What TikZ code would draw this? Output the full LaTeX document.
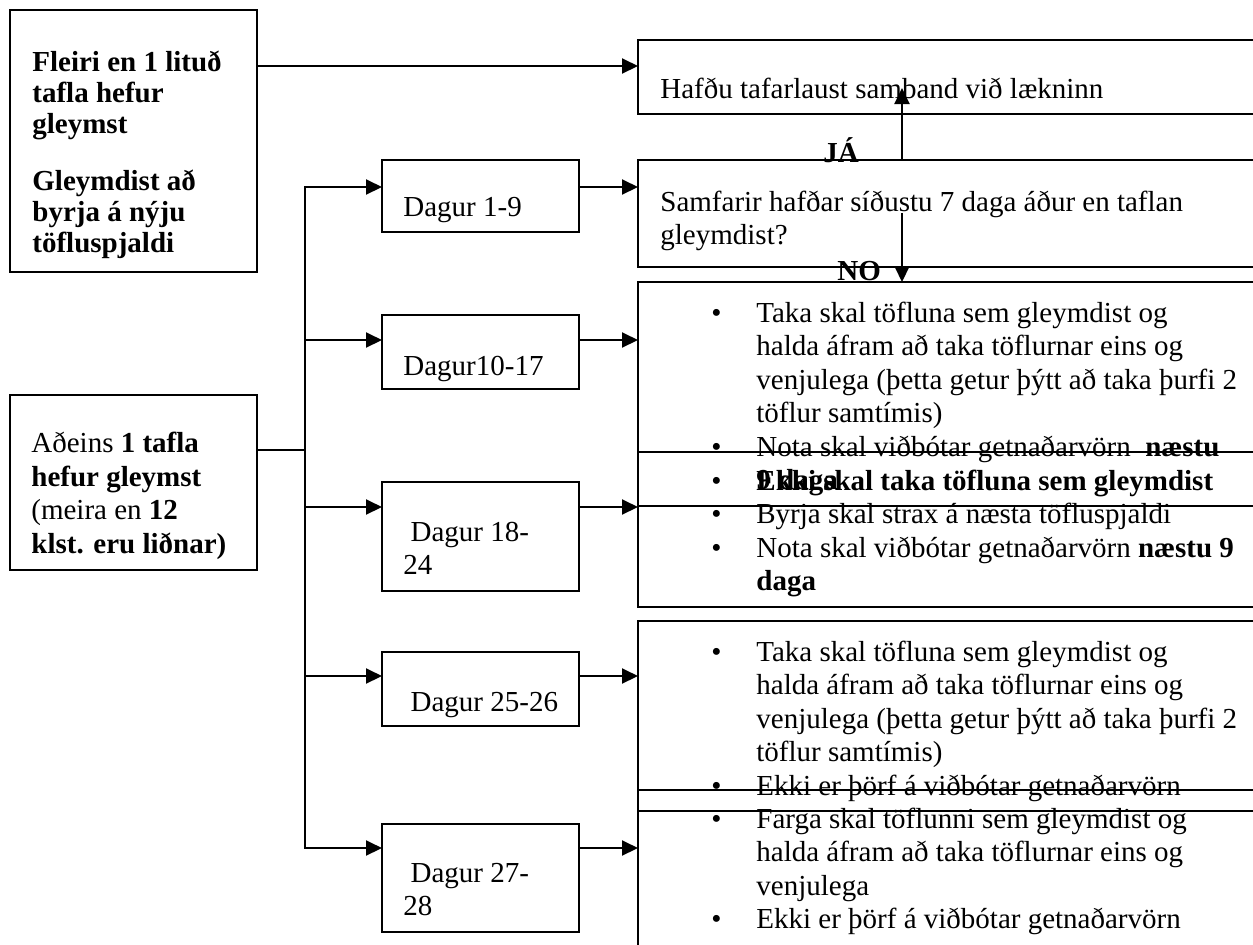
\documentclass[tikz,border=0pt]{standalone}
\usepackage{fontspec}
\setmainfont{Liberation Serif}
\usetikzlibrary{arrows.meta}
\newcommand{\bl}{\makebox[22.5pt][l]{\textbullet}}
\newcommand{\ind}{\hspace*{22.5pt}}
\newcommand{\tp}{\rule{0pt}{11.725pt}}
\tikzset{
  box/.style={draw, line width=1pt, anchor=north west, inner sep=0pt, outer sep=0pt},
  txt/.style={anchor=north west, inner sep=0pt, align=left, execute at begin node=\tp},
  lbl/.style={anchor=base west, inner sep=0pt, font=\fontsize{14.5}{16.75}\selectfont\bfseries},
  conn/.style={line width=1pt},
  arr/.style={line width=1pt, -{Triangle[length=8pt,width=7.5pt]}}
}

\begin{document}
\begin{tikzpicture}[x=0.5pt, y=-0.5pt, font=\fontsize{14.5}{16.75}\selectfont]
\useasboundingbox (0,0) rectangle (1253,944);
\node[box, minimum width=123.5pt, minimum height=131pt] (fleiri) at (10,10) {};
\node[box, minimum width=123.5pt, minimum height=87.5pt] (adeins) at (10,395) {};
\node[box, minimum width=320pt, minimum height=37pt] (hafdu) at (638,40) {};
\node[box, minimum width=320pt, minimum height=53.5pt] (samfarir) at (638,160) {};
\node[box, minimum width=98.5pt, minimum height=36pt] (d1) at (382,160) {};
\node[box, minimum width=98.5pt, minimum height=37pt] (d2) at (382,315) {};
\node[box, minimum width=98.5pt, minimum height=54.5pt] (d3) at (382,482) {};
\node[box, minimum width=98.5pt, minimum height=37pt] (d4) at (382,652) {};
\node[box, minimum width=98.5pt, minimum height=54pt] (d5) at (382,824) {};
\node[box, minimum width=320pt, minimum height=112pt] (b1) at (638,282) {};
\node[box, minimum width=320pt, minimum height=77.5pt] (b2) at (638,452) {};
\node[box, minimum width=320pt, minimum height=95pt] (c1) at (638,621) {};
\node[box, minimum width=320pt, minimum height=100pt] (c2) at (638,790) {};

\node[txt, font=\fontsize{14.5}{15.5}\selectfont\bfseries] (fleiritxt) at (32,50.5) {Fleiri en 1 lituð\\tafla hefur\\gleymst\\[13pt]Gleymdist að\\byrja á nýju\\töfluspjaldi};
\node[txt] (adeinstxt) at (31,432) {Aðeins \textbf{1 tafla}\\\textbf{hefur gleymst}\\(meira en \textbf{12}\\\textbf{klst. eru liðnar)}};
\node[txt] (hafdutxt) at (660,75) {Hafðu tafarlaust samband við lækninn};
\node[txt] (samfarirtxt) at (660,190.5) {Samfarir hafðar síðustu 7 daga áður en taflan\\gleymdist?};
\node[txt] (d1txt) at (403,192.5) {Dagur 1-9};
\node[txt] (d2txt) at (403,351.5) {Dagur10-17};
\node[txt] (d3txt) at (403,521.5) {\ Dagur 18-\\24};
\node[txt] (d4txt) at (403,687.5) {\ Dagur 25-26};
\node[txt] (d5txt) at (403,862.5) {\ Dagur 27-\\28};
\node[txt] (b1txt) at (711,301.5) {\bl Taka skal töfluna sem gleymdist og\\\ind halda áfram að taka töflurnar eins og\\\ind venjulega (þetta getur þýtt að taka þurfi 2\\\ind töflur samtímis)\\\bl Nota skal viðbótar getnaðarvörn \ \textbf{næstu}\\\ind\textbf{9 daga}};
\node[txt] (b2txt) at (711,469.5) {\bl\textbf{Ekki skal taka töfluna sem gleymdist}\\\bl Byrja skal strax á næsta töfluspjaldi\\\bl Nota skal viðbótar getnaðarvörn \textbf{næstu 9}\\\ind\textbf{daga}};
\node[txt] (c1txt) at (711,640.5) {\bl Taka skal töfluna sem gleymdist og\\\ind halda áfram að taka töflurnar eins og\\\ind venjulega (þetta getur þýtt að taka þurfi 2\\\ind töflur samtímis)\\\bl Ekki er þörf á viðbótar getnaðarvörn};
\node[txt] (c2txt) at (711,807.5) {\bl Farga skal töflunni sem gleymdist og\\\ind halda áfram að taka töflurnar eins og\\\ind venjulega\\\bl Ekki er þörf á viðbótar getnaðarvörn};
\node[lbl] (ja) at (823,162) {JÁ};
\node[lbl] (no) at (837,280) {NO};

\coordinate (trunk) at (305,450);
\coordinate (r0) at (0,66);
\coordinate (r1) at (0,187);
\coordinate (r2) at (0,340);
\coordinate (r3) at (0,507);
\coordinate (r4) at (0,676);
\coordinate (r5) at (0,848);
\coordinate (jatip) at (902,88);
\coordinate (nostart) at (902,213);

\draw[arr] (fleiri.east |- r0) -- (hafdu.west |- r0);
\draw[conn] (adeins.east |- trunk) -- (trunk);
\draw[conn, line cap=rect] (trunk |- r1) -- (trunk |- r5);
\draw[arr] (trunk |- r1) -- (d1.west |- r1);
\draw[arr] (trunk |- r2) -- (d2.west |- r2);
\draw[arr] (trunk |- r3) -- (d3.west |- r3);
\draw[arr] (trunk |- r4) -- (d4.west |- r4);
\draw[arr] (trunk |- r5) -- (d5.west |- r5);
\draw[arr] (d1.east |- r1) -- (samfarir.west |- r1);
\draw[arr] (d2.east |- r2) -- (b1.west |- r2);
\draw[arr] (d3.east |- r3) -- (b2.west |- r3);
\draw[arr] (d4.east |- r4) -- (c1.west |- r4);
\draw[arr] (d5.east |- r5) -- (c2.west |- r5);
\draw[arr] (samfarir.north -| jatip) -- (jatip);
\draw[arr] (nostart) -- (b1.north -| nostart);
\end{tikzpicture}
\end{document}
